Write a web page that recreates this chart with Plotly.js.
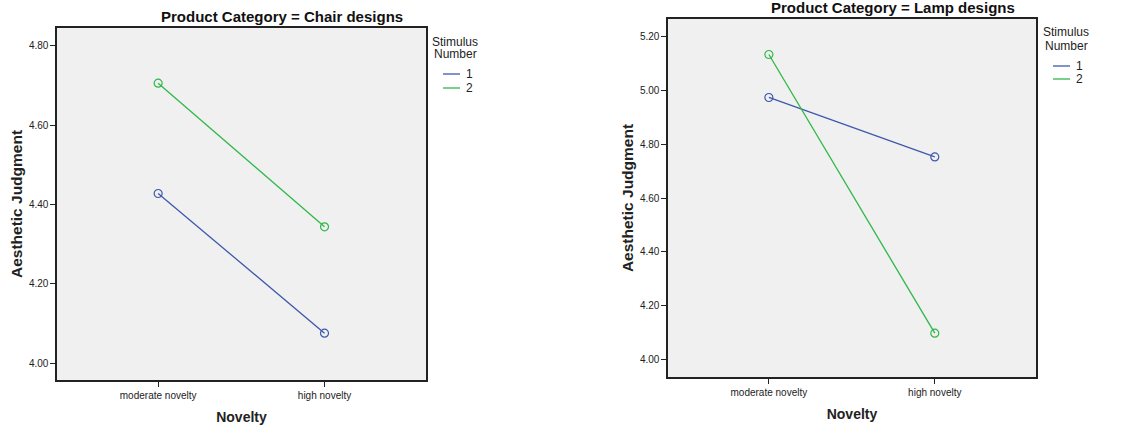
<!DOCTYPE html>
<html>
<head>
<meta charset="utf-8">
<script src="https://cdn.plot.ly/plotly-3.0.1.min.js"></script>
<style>html,body{margin:0;padding:0;background:#fff;}#chart{width:1139px;height:430px;}</style>
</head>
<body>
<div id="chart"></div>
<script>
const categories = ["moderate novelty", "high novelty"];
const chairStim1 = [4.428, 4.076];
const chairStim2 = [4.706, 4.344];
const lampStim1 = [4.974, 4.753];
const lampStim2 = [5.134, 4.097];
const stimulusLabels = ["1", "2"];
const chairTicks = [4.0, 4.2, 4.4, 4.6, 4.8];
const lampTicks = [4.0, 4.2, 4.4, 4.6, 4.8, 5.0, 5.2];

const W = 1139, H = 430;
const BLUE = '#3E58AC';
const GREEN = '#2EB848';
const SERIES_COLORS = [BLUE, GREEN];
const FONT = 'Liberation Sans, Arial, sans-serif';
const px = v => v / W;
const py = v => 1 - v / H;

function dataTrace(y, color, xa, ya, name) {
  return {x: categories, y: y, xaxis: xa, yaxis: ya, type: 'scatter', mode: 'lines+markers', name: name,
    line: {color: color, width: 1.3},
    marker: {symbol: 'circle-open', size: 8, color: color, line: {width: 1.2, color: color}},
    showlegend: false, hoverinfo: 'skip'};
}

const traces = [
  dataTrace(chairStim1, BLUE, 'x', 'y', stimulusLabels[0]),
  dataTrace(chairStim2, GREEN, 'x', 'y', stimulusLabels[1]),
  dataTrace(lampStim1, BLUE, 'x2', 'y2', stimulusLabels[0]),
  dataTrace(lampStim2, GREEN, 'x2', 'y2', stimulusLabels[1])
];

const axisCommon = {
  showgrid: false, zeroline: false, showline: true, mirror: true,
  linecolor: '#222', linewidth: 1.6, ticks: 'outside', ticklen: 5, tickcolor: '#222', tickwidth: 1,
  tickfont: {family: FONT, size: 10, color: '#222'}
};
function xAxis(domain, anchor) {
  return Object.assign({}, axisCommon, {domain: domain, anchor: anchor, type: 'category',
    range: [-0.608, 1.61], fixedrange: true,
    title: {text: 'Novelty', font: {family: FONT, size: 14, color: '#222', weight: 'bold'}, standoff: 12}});
}
function yAxis(domain, anchor, range, ticks) {
  return Object.assign({}, axisCommon, {domain: domain, anchor: anchor, range: range,
    tickvals: ticks, ticktext: ticks.map(v => v.toFixed(2)),
    title: {text: 'Aesthetic Judgment', font: {family: FONT, size: 15.5, color: '#222', weight: 'bold'}, standoff: 2}});
}

// Manual legends (SPSS style: short key line, compact spacing)
const legends = [
  {titleX: 455, titleY: [42, 54], keyX: [443, 460], keyY: [74, 88], labelX: 464},
  {titleX: 1066, titleY: [32, 46], keyX: [1053, 1070], keyY: [66, 79], labelX: 1074}
];
const annotations = [
  {text: '<b>Product Category = Chair designs</b>', xref: 'paper', yref: 'paper', x: px(282), y: py(16.5),
   xanchor: 'center', yanchor: 'middle', showarrow: false, font: {family: FONT, size: 15, color: '#111'}},
  {text: '<b>Product Category = Lamp designs</b>', xref: 'paper', yref: 'paper', x: px(893), y: py(7.5),
   xanchor: 'center', yanchor: 'middle', showarrow: false, font: {family: FONT, size: 15, color: '#111'}}
];
const shapes = [];
legends.forEach(L => {
  ['Stimulus', 'Number'].forEach((t, i) => annotations.push({text: t, xref: 'paper', yref: 'paper',
    x: px(L.titleX), y: py(L.titleY[i]), xanchor: 'center', yanchor: 'middle', showarrow: false,
    font: {family: FONT, size: 12, color: '#222'}}));
  stimulusLabels.forEach((lab, i) => {
    shapes.push({type: 'line', xref: 'paper', yref: 'paper', x0: px(L.keyX[0]), x1: px(L.keyX[1]),
      y0: py(L.keyY[i]), y1: py(L.keyY[i]), line: {color: SERIES_COLORS[i], width: 1.3}});
    annotations.push({text: lab, xref: 'paper', yref: 'paper', x: px(L.labelX), y: py(L.keyY[i]),
      xanchor: 'left', yanchor: 'middle', showarrow: false, font: {family: FONT, size: 12, color: '#222'}});
  });
});

const layout = {
  width: W, height: H,
  margin: {l: 0, r: 0, t: 0, b: 0},
  paper_bgcolor: '#ffffff',
  plot_bgcolor: '#F0F0F0',
  showlegend: false,
  xaxis: xAxis([px(57), px(426)], 'y'),
  yaxis: yAxis([py(380), py(28)], 'x', [3.958, 4.845], chairTicks),
  xaxis2: xAxis([px(668), px(1036)], 'y2'),
  yaxis2: yAxis([py(377), py(19)], 'x2', [3.934, 5.266], lampTicks),
  annotations: annotations,
  shapes: shapes
};

Plotly.newPlot('chart', traces, layout, {displayModeBar: false, staticPlot: true});
</script>
</body>
</html>
